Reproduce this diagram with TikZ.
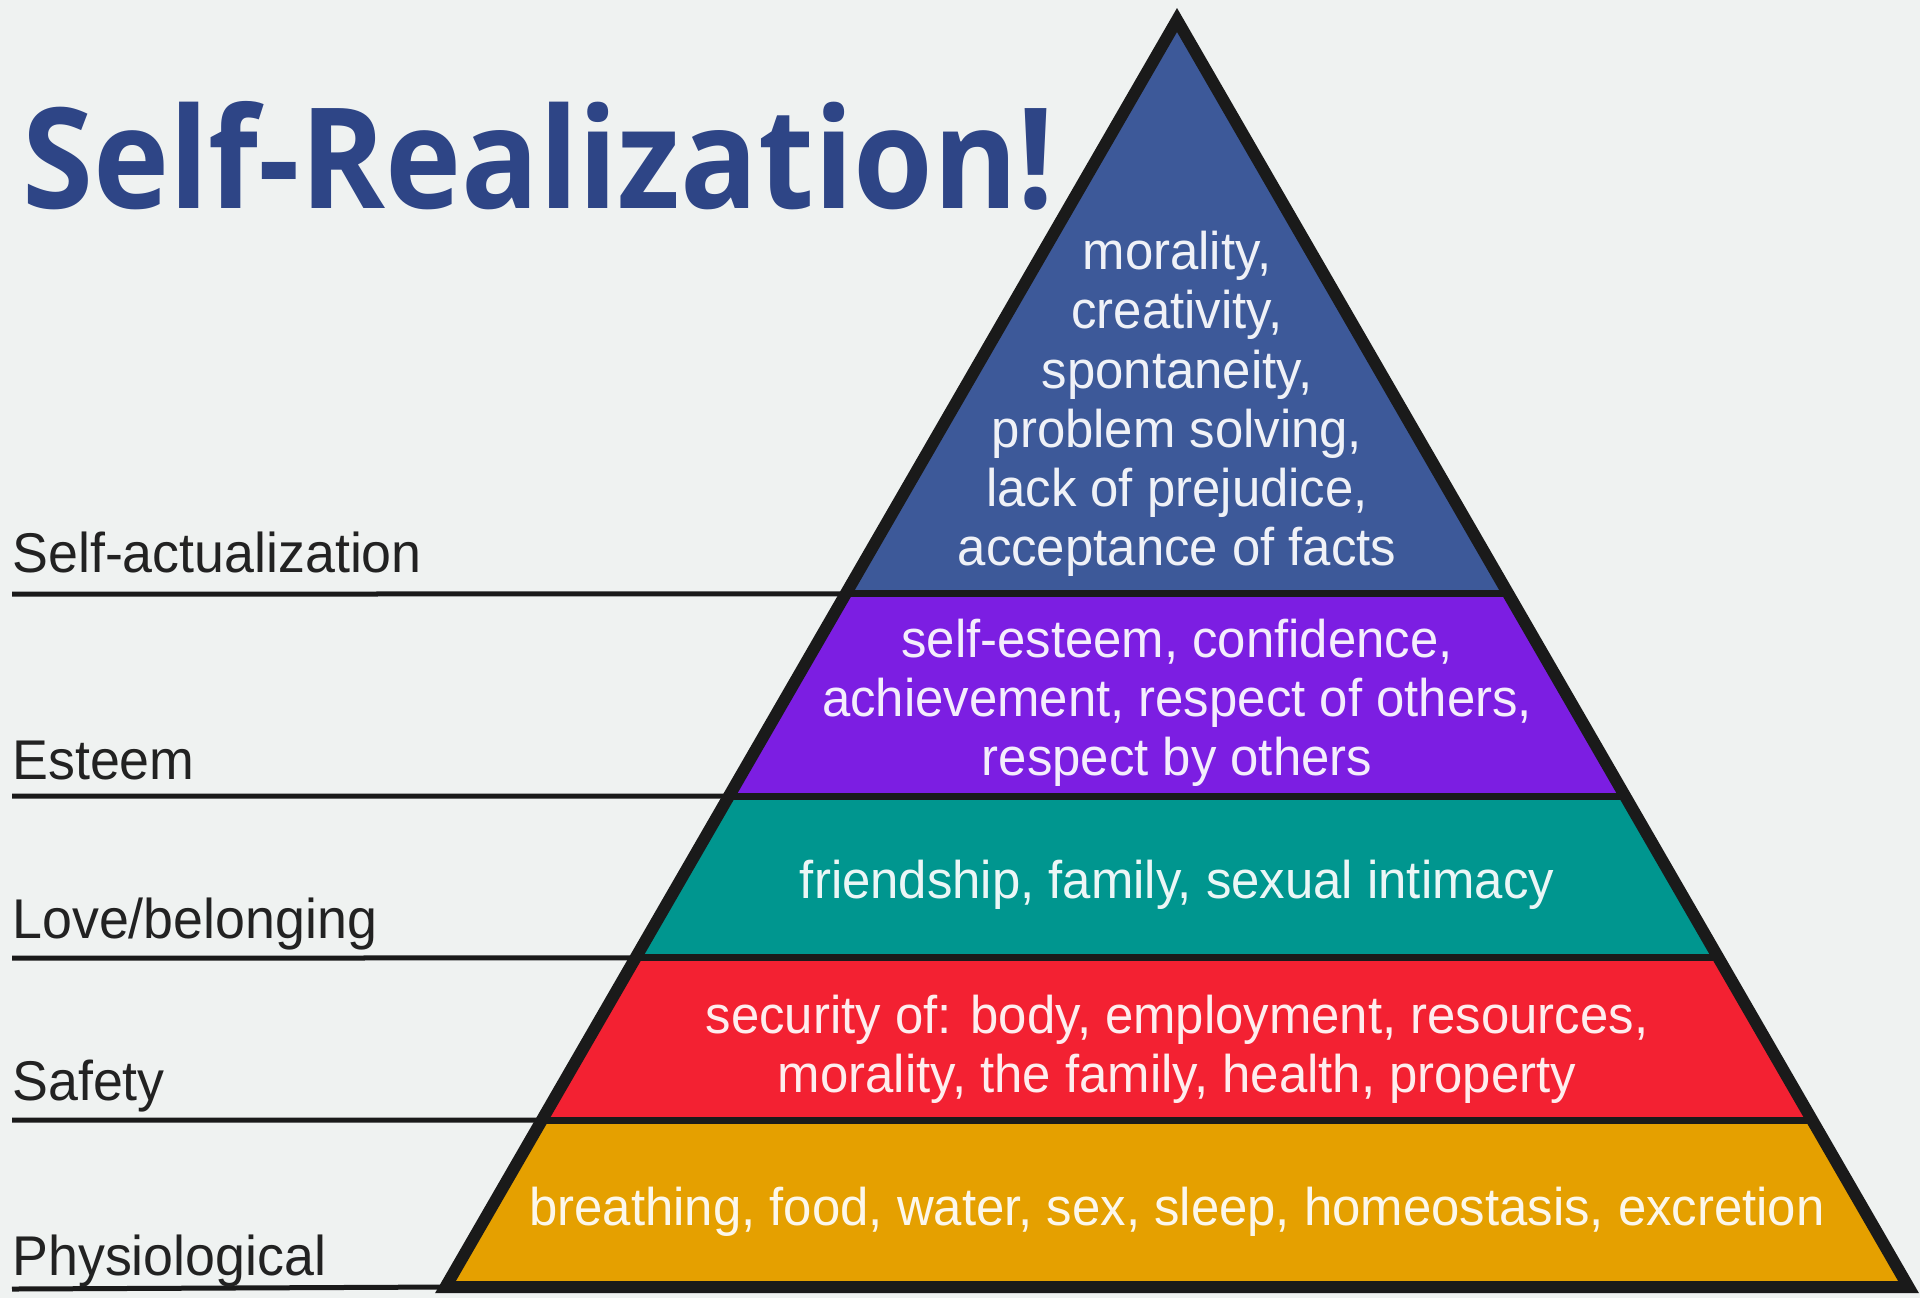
\documentclass[tikz,border=0pt]{standalone}
\usepackage{fontspec}
\setmainfont{Liberation Sans}[FakeStretch=0.96]
\newfontfamily\titlefont{Open Sans}[FakeStretch=0.92]
\usetikzlibrary{calc}

\definecolor{bgcol}{RGB}{239,242,241}
\definecolor{outline}{RGB}{26,26,26}
\definecolor{labelcol}{RGB}{34,34,34}
\definecolor{titleblue}{RGB}{46,69,134}
\definecolor{blueband}{RGB}{61,89,153}
\definecolor{purpleband}{RGB}{124,30,226}
\definecolor{tealband}{RGB}{0,150,143}
\definecolor{redband}{RGB}{243,33,50}
\definecolor{goldband}{RGB}{229,160,0}

\begin{document}
\begin{tikzpicture}[x=0.5pt, y=-0.5pt,
  divider/.style={draw=outline, line width=3.5pt},
  tick/.style={draw=outline, line width=2.5pt},
  need/.style={text=white, text opacity=0.92, align=center, inner sep=0pt,
    font=\fontsize{26.5}{29.6}\selectfont},
  level/.style={anchor=base west, text=labelcol, inner sep=0pt,
    font=\fontsize{28}{30}\selectfont}]

\fill[bgcol] (0,0) rectangle (1920,1298);
\useasboundingbox (0,0) rectangle (1920,1298);

% pyramid corners
\coordinate (top) at (1177,20);
\coordinate (bl) at (445.5,1287);
\coordinate (br) at (1908.5,1287);

% band boundaries
\coordinate (l1) at ($(top)!0.4530!(bl)$);
\coordinate (r1) at ($(top)!0.4530!(br)$);
\coordinate (l2) at ($(top)!0.6125!(bl)$);
\coordinate (r2) at ($(top)!0.6125!(br)$);
\coordinate (l3) at ($(top)!0.7403!(bl)$);
\coordinate (r3) at ($(top)!0.7403!(br)$);
\coordinate (l4) at ($(top)!0.8682!(bl)$);
\coordinate (r4) at ($(top)!0.8682!(br)$);

\fill[blueband] (top) -- (l1) -- (r1) -- cycle;
\fill[purpleband] (l1) -- (l2) -- (r2) -- (r1) -- cycle;
\fill[tealband] (l2) -- (l3) -- (r3) -- (r2) -- cycle;
\fill[redband] (l3) -- (l4) -- (r4) -- (r3) -- cycle;
\fill[goldband] (l4) -- (bl) -- (br) -- (r4) -- cycle;

\draw[divider] (l1) -- (r1);
\draw[divider] (l2) -- (r2);
\draw[divider] (l3) -- (r3);
\draw[divider] (l4) -- (r4);

% lines out to the level names
\coordinate (s1) at (12,594);
\coordinate (s2) at (12,796);
\coordinate (s3) at (12,958);
\coordinate (s4) at (12,1120);
\coordinate (s5) at (12,1289);
\draw[tick] (s1) -- (l1);
\draw[tick] (s2) -- (l2);
\draw[tick] (s3) -- (l3);
\draw[tick] (s4) -- (l4);
\draw[tick] (s5) -- (bl);

\draw[draw=outline, line width=6pt, line join=miter] (top) -- (bl) -- (br) -- cycle;

\node[level] (selfact) at (12,572) {Self-actualization};
\node[level] (esteem) at (12,779) {Esteem};
\node[level] (love) at (12,938) {Love/belonging};
\node[level] (safety) at (12,1100) {Safety};
\node[level] (physio) at (12,1275) {Physiological};

\node[need] (selfactneeds) at (1177,404) {morality,\\creativity,\\spontaneity,\\problem solving,\\lack of prejudice,\\acceptance of facts};
\node[need] (esteemneeds) at (1177,703) {self-esteem, confidence,\\achievement, respect of others,\\respect by others};
\node[need] (loveneeds) at (1177,885) {friendship, family, sexual intimacy};
\node[need] (safetyneeds) at (1177,1049) {security of: body, employment, resources,\\morality, the family, health, property};
\node[need] (physioneeds) at (1177,1212) {breathing, food, water, sex, sleep, homeostasis, excretion};

\node[anchor=base west, text=titleblue, inner sep=0pt,
  font=\titlefont\bfseries\fontsize{70}{72}\selectfont] (title) at (22,208) {Self-Realization!};
\end{tikzpicture}
\end{document}
